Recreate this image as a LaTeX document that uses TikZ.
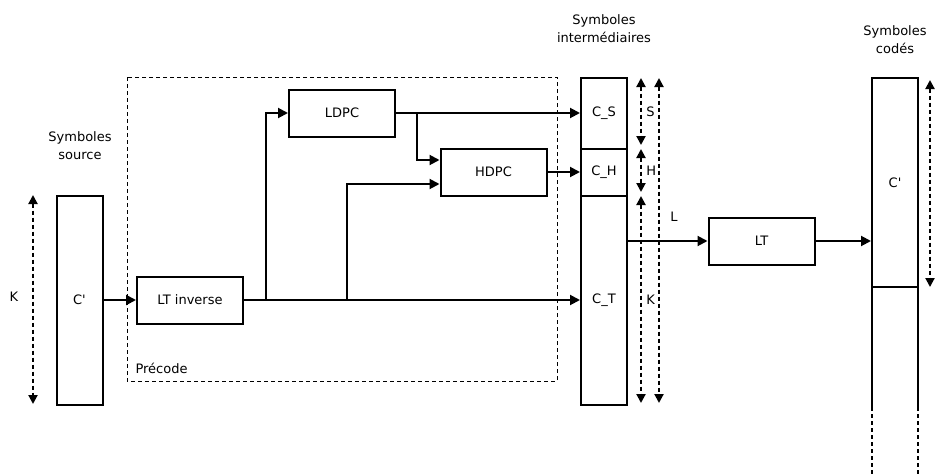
\documentclass[tikz,border=0pt]{standalone}
\usepackage{fontspec}
\setmainfont{DejaVu Sans}
\usetikzlibrary{arrows.meta}
\tikzset{
  txt/.style={font=\fontsize{13}{18}\selectfont},
  block/.style={draw, line width=2pt, minimum width=106pt, minimum height=47pt, inner sep=0pt, txt},
  column/.style={draw, line width=2pt, minimum width=46pt, inner sep=0pt, txt},
  flow/.style={line width=2pt, -{Triangle[length=10pt,width=10pt]}},
  span/.style={line width=2pt, dash pattern=on 4pt off 3pt,
    {Triangle[length=9pt,width=9pt]}-{Triangle[length=9pt,width=9pt]}},
}
\begin{document}
\begin{tikzpicture}[x=1pt,y=-1pt]
  \useasboundingbox (0,0) rectangle (937,474);
  % precode frame
  \draw[line width=1pt, dash pattern=on 4pt off 3pt] (127,77) rectangle (557,381);
  \node[txt, anchor=west] (precode) at (132,368) {Précode};
  % source symbols
  \node[column, minimum height=209pt] (src) at (79.5,300) {C\textquotesingle};
  \node[txt, align=center] (srclabel) at (80,146) {Symboles\\source};
  \coordinate (kt) at (33,195);
  \coordinate (kb) at (33,404);
  \draw[span] (kt) -- (kb);
  \node[txt] (klabel) at (14,297) {K};
  % blocks
  \node[block] (lti) at (190,300) {LT inverse};
  \node[block] (ldpc) at (342,113) {LDPC};
  \node[block] (hdpc) at (493.5,172) {HDPC};
  \node[block] (lt) at (761.5,241) {LT};
  % intermediate symbols
  \node[column, minimum height=71pt] (cs) at (604,113) {C\_S};
  \node[column, minimum height=47pt] (ch) at (604,172) {C\_H};
  \node[column, minimum height=209pt] (ct) at (604,300) {C\_T};
  \node[txt, align=center] (intlabel) at (604,29) {Symboles\\intermédiaires};
  % coded symbols
  \node[column, minimum height=209pt] (cc) at (895,182.5) {C\textquotesingle};
  \node[txt, align=center] (codlabel) at (895,40) {Symboles\\codés};
  \coordinate (ccl) at (872,407);
  \coordinate (ccr) at (918,407);
  \draw[line width=2pt] (872,286) -- (ccl);
  \draw[line width=2pt] (918,286) -- (ccr);
  \draw[line width=2pt, dash pattern=on 4pt off 3pt] (ccl) -- ++(0,67);
  \draw[line width=2pt, dash pattern=on 4pt off 3pt] (ccr) -- ++(0,67);
  % connections
  \draw[flow] (src) -- (lti);
  \draw[flow] (lti) -- (ct);
  \draw[flow] (266,300) |- (ldpc);
  \draw[flow] (347,300) |- (hdpc.west |- 0,184);
  \draw[flow] (ldpc) -- (cs);
  \draw[flow] (417,113) |- (hdpc.west |- 0,160);
  \draw[flow] (hdpc) -- (ch);
  \draw[flow] (ct.east |- lt.west) -- (lt);
  \draw[flow] (lt) -- (lt.east -| cc.west);
  % lengths
  \draw[span] (641,78) -- (641,145) node[txt, midway, right=1pt] (slabel) {S};
  \draw[span] (641,149) -- (641,192) node[txt, midway, right=1pt] (hlabel) {H};
  \draw[span] (641,196) -- (641,403) node[txt, pos=0.5, right=1pt] (k2label) {K};
  \draw[span] (659,78) -- (659,403);
  \node[txt] (llabel) at (674,217) {L};
  \draw[span] (930,80) -- (930,287);
\end{tikzpicture}
\end{document}
